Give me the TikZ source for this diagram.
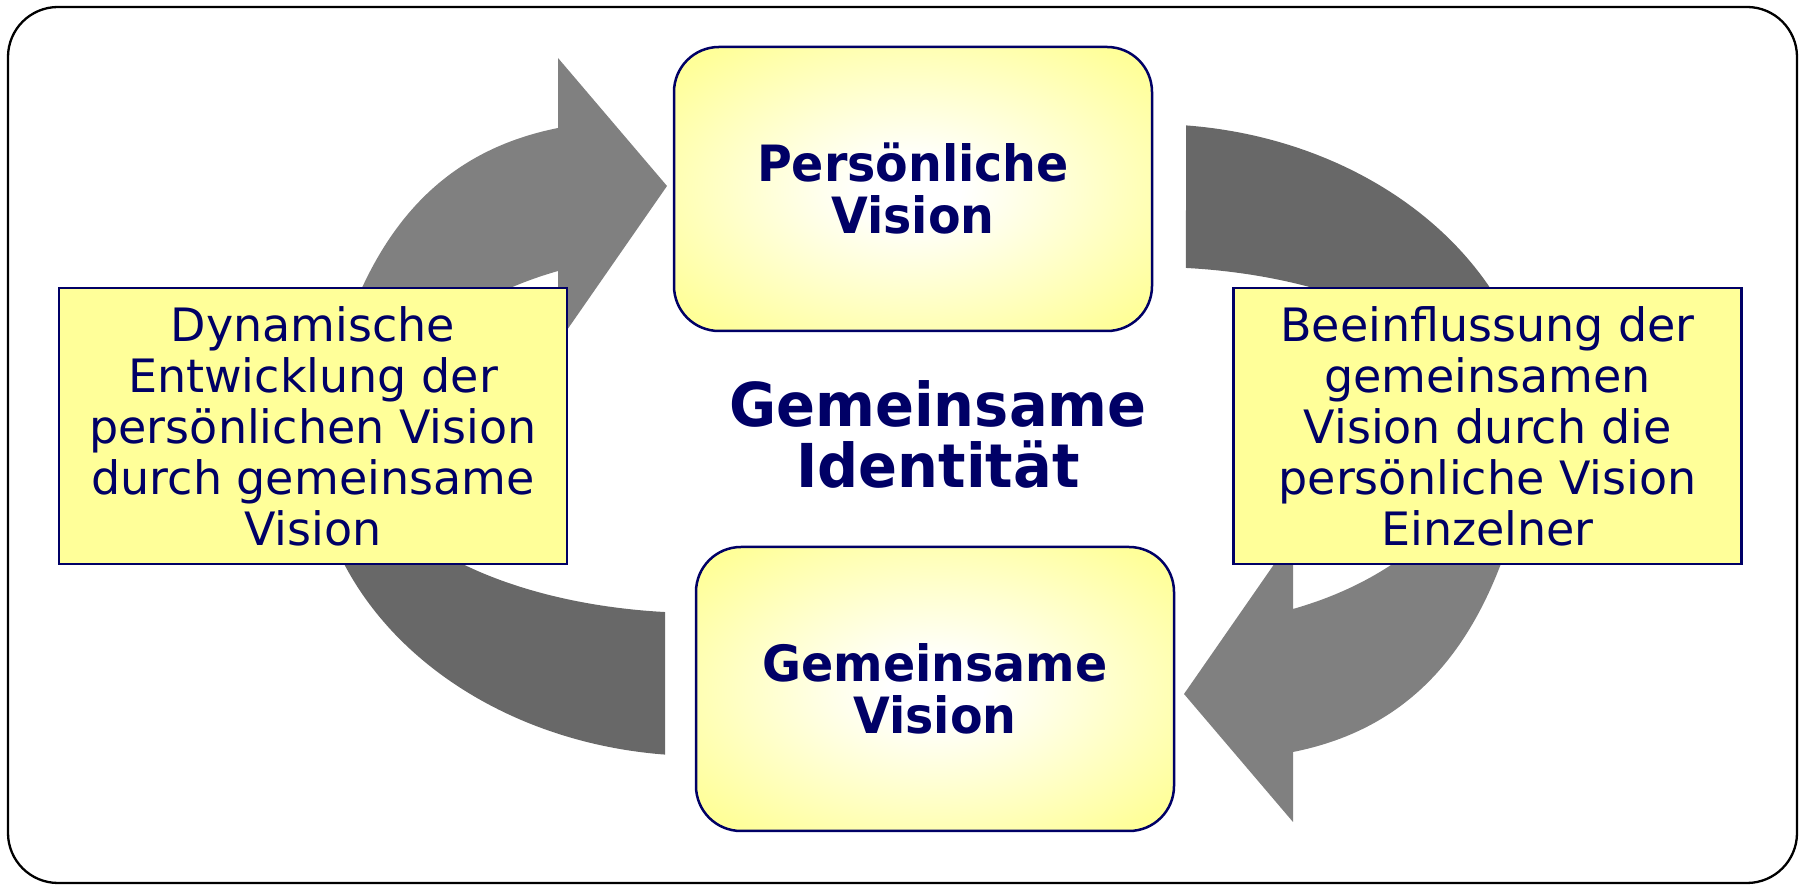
\documentclass[tikz,border=0pt]{standalone}
\usepackage{fontspec}
\setmainfont{DejaVu Sans}
\newfontfamily\headfont{DejaVu Sans}[FakeStretch=0.95]
\definecolor{navytext}{RGB}{0,0,102}
\definecolor{boxyellow}{RGB}{255,255,153}
\definecolor{arrowlight}{RGB}{128,128,128}
\definecolor{arrowdark}{RGB}{104,104,104}
% soft white centre fading into yellow for the two vision boxes
\pgfdeclareradialshading{boxglow}{\pgfpoint{0bp}{0bp}}{color(0bp)=(white); color(5bp)=(white); color(32bp)=(boxyellow); color(50bp)=(boxyellow)}

\begin{document}
\begin{tikzpicture}[x=1pt,y=1pt,
  frame/.style={draw=black, line width=2.3pt, rounded corners=50pt},
  visionbox/.style={draw=navytext, line width=2.5pt, rounded corners=45pt,
    shade, shading=boxglow, minimum width=478pt, minimum height=284pt,
    inner sep=0pt, align=center, text=navytext,
    font=\headfont\bfseries\fontsize{50}{52}\selectfont},
  notebox/.style={draw=navytext, line width=2.5pt, fill=boxyellow,
    minimum width=508pt, minimum height=276pt, inner sep=0pt,
    align=center, text=navytext, font=\fontsize{46}{51}\selectfont},
  titletext/.style={align=center, text=navytext,
    font=\headfont\bfseries\fontsize{60.5}{61}\selectfont},
  lightarrow/.style={fill=arrowlight},
  darkband/.style={fill=arrowdark}]

\useasboundingbox (0,0) rectangle (1804,885);
\draw[frame] (8,2) rectangle (1797,878);

% centre of the cycle; the right half is the left half turned by 180 degrees
\coordinate (hub) at (925.5,445);

% curved arrow rising into the upper box, and its counterpart on the right
\foreach \turn in {0,180}{
  \fill[lightarrow, rotate around={\turn:(hub)}]
    (345,555) .. controls (383.5,665) and (448,735) .. (558,757)
    -- (558,827) -- (667,699) -- (558,542) -- (558,614)
    .. controls (530,606) and (495,593) .. (460,570) -- cycle;
}

% plain bands leaving the boxes
\foreach \turn in {0,180}{
  \fill[darkband, rotate around={\turn:(hub)}]
    (1186,759.6) arc[start angle=84.68, end angle=-10, x radius=388, y radius=316]
    -- (1486.8,414.96)
    arc[start angle=-10, end angle=83.96, x radius=342, y radius=173] -- cycle;
}

\node[visionbox] (pv) at (913,696) {Persönliche\\Vision};
\node[visionbox] (gv) at (935,196) {Gemeinsame\\Vision};
\node[notebox] (lb) at (313,459)
  {Dynamische\\Entwicklung der\\persönlichen Vision\\durch gemeinsame\\Vision};
\node[notebox] (rb) at (1487.5,459)
  {Beeinflussung der\\gemeinsamen\\Vision durch die\\persönliche Vision\\Einzelner};
\node[titletext] (gi) at (938,450.5) {Gemeinsame\\Identität};
\end{tikzpicture}
\end{document}
